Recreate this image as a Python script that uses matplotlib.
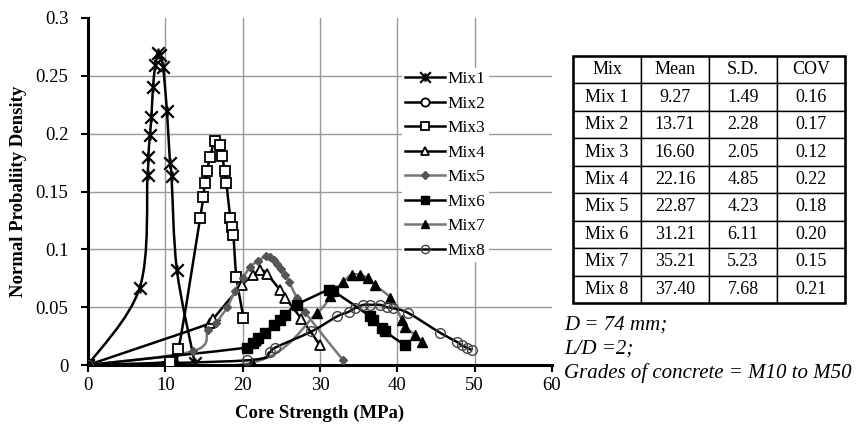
import matplotlib
matplotlib.use("Agg")
import matplotlib.pyplot as plt
from matplotlib.path import Path
from matplotlib.patches import PathPatch
from matplotlib.lines import Line2D

plt.rcParams['font.family'] = ['Liberation Serif', 'DejaVu Serif']

# values (core strength in MPa, normal probability density)
mix1_x = [0, 6.7, 7.7, 7.8, 8.0, 8.2, 8.4, 8.7, 9.0, 9.3, 9.7, 10.2, 10.6, 10.8, 11.5, 13.8]
mix1_y = [0, 0.067, 0.164, 0.180, 0.199, 0.214, 0.240, 0.259, 0.270, 0.268, 0.258, 0.220, 0.175, 0.163, 0.082, 0.002]

mix2_x = [0]
mix2_y = [0]

mix3_x = [0, 10.6, 11.7, 14.5, 14.9, 15.1, 15.4, 15.8, 16.4, 17.1, 17.3, 17.7, 17.9, 18.4, 18.6, 18.8, 19.2, 20.1]
mix3_y = [0, 0.003, 0.014, 0.127, 0.145, 0.157, 0.168, 0.180, 0.194, 0.190, 0.181, 0.168, 0.157, 0.127, 0.119, 0.112, 0.076, 0.041]

mix4_x = [0, 15.8, 16.2, 19.9, 21.4, 22.3, 23.1, 24.8, 25.5, 27.6, 30.0]
mix4_y = [0, 0.036, 0.040, 0.069, 0.078, 0.082, 0.079, 0.065, 0.058, 0.040, 0.017]

mix5_x = [0, 13.6, 15.5, 16.5, 18.0, 19.0, 20.0, 21.0, 22.0, 23.0, 23.5, 24.0, 24.5, 25.0, 25.5, 26.0, 27.0, 28.0, 33.0]
mix5_y = [0, 0.012, 0.030, 0.036, 0.050, 0.064, 0.075, 0.085, 0.090, 0.094, 0.093, 0.091, 0.087, 0.083, 0.078, 0.072, 0.058, 0.046, 0.004]

mix6_x = [0, 20.5, 21.4, 22.0, 22.9, 24.0, 24.8, 25.5, 27.0, 31.1, 31.7, 36.5, 36.9, 38.0, 38.4, 41.0]
mix6_y = [0, 0.015, 0.019, 0.023, 0.028, 0.035, 0.039, 0.043, 0.052, 0.065, 0.064, 0.042, 0.039, 0.032, 0.029, 0.017]

mix7_x = [0, 21.2, 29.6, 31.3, 33.0, 34.1, 35.2, 36.2, 37.1, 39.1, 40.6, 41.0, 42.3, 43.2]
mix7_y = [0, 0.002, 0.045, 0.060, 0.072, 0.078, 0.078, 0.075, 0.069, 0.058, 0.039, 0.033, 0.026, 0.020]

mix8_x = [0, 20.5, 23.5, 24.2, 28.9, 32.2, 33.7, 34.5, 35.6, 36.5, 37.8, 38.6, 39.5, 41.4, 45.5, 47.7, 48.3, 49.0, 49.6]
mix8_y = [0, 0.004, 0.011, 0.015, 0.029, 0.042, 0.046, 0.049, 0.052, 0.052, 0.052, 0.050, 0.049, 0.045, 0.028, 0.020, 0.017, 0.015, 0.013]

labels = ['Mix1', 'Mix2', 'Mix3', 'Mix4', 'Mix5', 'Mix6', 'Mix7', 'Mix8']

table_cols = ['Mix', 'Mean', 'S.D.', 'COV']
table_mix = ['Mix 1', 'Mix 2', 'Mix 3', 'Mix 4', 'Mix 5', 'Mix 6', 'Mix 7', 'Mix 8']
table_mean = ['9.27', '13.71', '16.60', '22.16', '22.87', '31.21', '35.21', '37.40']
table_sd = ['1.49', '2.28', '2.05', '4.85', '4.23', '6.11', '5.23', '7.68']
table_cov = ['0.16', '0.17', '0.12', '0.22', '0.18', '0.20', '0.15', '0.21']

notes = ['D = 74 mm;', 'L/D =2;', 'Grades of concrete = M10 to M50']


def smooth_path(x, y):
    # Excel-style smoothed line: bezier segments through the points
    pts = list(zip(x, y))
    verts = [pts[0]]
    codes = [Path.MOVETO]
    n = len(pts)
    for i in range(n - 1):
        p0 = pts[max(i - 1, 0)]
        p1 = pts[i]
        p2 = pts[i + 1]
        p3 = pts[min(i + 2, n - 1)]
        c1 = (p1[0] + (p2[0] - p0[0]) / 6, p1[1] + (p2[1] - p0[1]) / 6)
        c2 = (p2[0] - (p3[0] - p1[0]) / 6, p2[1] - (p3[1] - p1[1]) / 6)
        verts += [c1, c2, p2]
        codes += [Path.CURVE4] * 3
    return Path(verts, codes)


# asterisk marker like Excel's
star = Path([(-1, -1), (1, 1), (-1, 1), (1, -1), (0, -0.8), (0, 0.8)],
            [Path.MOVETO, Path.LINETO, Path.MOVETO, Path.LINETO, Path.MOVETO, Path.LINETO])

gray = '#777777'
line_colors = ['black', 'black', 'black', 'black', gray, 'black', gray, 'black']
markers = [
    dict(marker=star, ms=9, mew=1.6, mec='black'),
    dict(marker='o', ms=7, mfc='white', mec='black', mew=1.3),
    dict(marker='s', ms=7.5, mfc='white', mec='black', mew=1.3),
    dict(marker='^', ms=7.5, mfc='white', mec='black', mew=1.3),
    dict(marker='D', ms=4.5, mfc='#555555', mec='#555555'),
    dict(marker='s', ms=6.5, mfc='black', mec='black'),
    dict(marker='^', ms=7, mfc='black', mec='black'),
    dict(marker='o', ms=7, mfc='none', mec='#444444', mew=1.0),
]

xs = [mix1_x, mix2_x, mix3_x, mix4_x, mix5_x, mix6_x, mix7_x, mix8_x]
ys = [mix1_y, mix2_y, mix3_y, mix4_y, mix5_y, mix6_y, mix7_y, mix8_y]

fig = plt.figure(figsize=(8.56, 4.28), dpi=100)
ax = fig.add_axes([88 / 856, 63 / 428, 464 / 856, 347 / 428])

for v in [10, 20, 30, 40, 50]:
    ax.axvline(v, color='#999999', lw=1, zorder=0)
for v in [0.05, 0.1, 0.15, 0.2, 0.25]:
    ax.axhline(v, color='#999999', lw=1, zorder=0)

handles = []
for x, y, lab, col, mk in zip(xs, ys, labels, line_colors, markers):
    if len(x) > 1:
        ax.add_patch(PathPatch(smooth_path(x, y), facecolor='none', edgecolor=col, lw=1.8, zorder=2))
    ax.plot(x, y, ls='none', zorder=3, **mk)
    handles.append(Line2D([], [], color=col, lw=1.8, **mk))

ax.set_xlim(0, 60)
ax.set_ylim(0, 0.3)
ax.set_xticks([0, 10, 20, 30, 40, 50, 60])
ax.set_yticks([0, 0.05, 0.1, 0.15, 0.2, 0.25, 0.3])
ax.set_yticklabels(['0', '0.05', '0.1', '0.15', '0.2', '0.25', '0.3'])
ax.tick_params(labelsize=13.5, direction='out', length=5, width=1.5)
ax.tick_params(axis='y', pad=9)
for s in ['top', 'right']:
    ax.spines[s].set_visible(False)
for s in ['left', 'bottom']:
    ax.spines[s].set_linewidth(2.2)
ax.set_xlabel('Core Strength (MPa)', fontsize=13.5, fontweight='bold', labelpad=8)
ax.set_ylabel('Normal Probaliity Density', fontsize=13.5, fontweight='bold', labelpad=6)

leg = ax.legend(handles, labels, loc='upper left', bbox_to_anchor=(393 / 856, 1 - 59 / 428),
                bbox_transform=fig.transFigure, fontsize=12.5, frameon=True,
                framealpha=1, edgecolor='none', fancybox=False,
                handlelength=2.3, handletextpad=0.15, labelspacing=0.48,
                borderpad=0.2, markerscale=0.85)

tax = fig.add_axes([573 / 856, 1 - 303 / 428, 272 / 856, 247 / 428])
tax.axis('off')
cells = [[m, a, b, c] for m, a, b, c in zip(table_mix, table_mean, table_sd, table_cov)]
tab = tax.table(cellText=[table_cols] + cells, cellLoc='center', bbox=[0, 0, 1, 1])
tab.auto_set_font_size(False)
tab.set_fontsize(13)
for cell in tab.get_celld().values():
    cell.set_linewidth(1.0)
    cell.set_edgecolor('black')
tax.add_patch(plt.Rectangle((0, 0), 1, 1, transform=tax.transAxes, fill=False,
                            lw=1.8, ec='black', clip_on=False, zorder=5))

for i, t in enumerate(notes):
    fig.text(564 / 856, 1 - (330 + i * 24) / 428, t, fontsize=15, style='italic',
             va='baseline', ha='left')

fig.savefig('out.png', dpi=100)
